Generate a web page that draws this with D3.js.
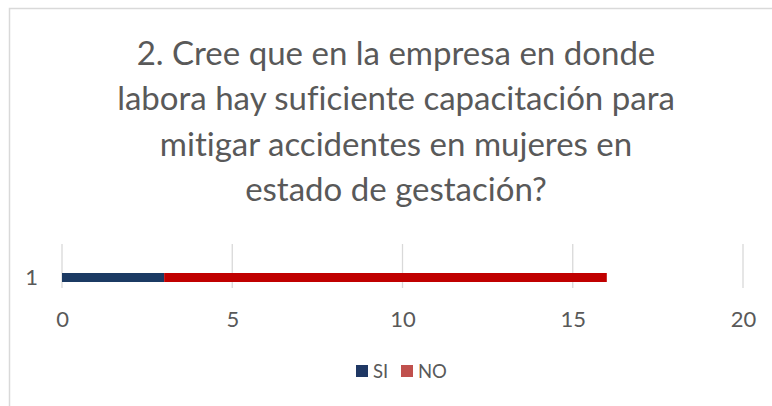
<!DOCTYPE html>
<html>
<head>
<meta charset="utf-8">
<script src="https://cdn.jsdelivr.net/npm/d3@7"></script>
<style>
  body { margin: 0; background: #fff; }
  svg { display: block; font-family: Lato, "Open Sans", sans-serif; font-variant-ligatures: none; }
</style>
</head>
<body>
<svg id="chart" width="772" height="406"></svg>
<script>
// data
var categories = ["1"];
var seriesNames = ["SI", "NO"];
var siValues = [3];
var noValues = [13];
var barColors = ["#1b3a63", "#c00000"];
var legendColors = ["#1f3864", "#c0504d"];
var tickValues = [0, 5, 10, 15, 20];
var titleLines = [
  "2. Cree que en la empresa en donde",
  "labora hay suficiente capacitación para",
  "mitigar accidentes en mujeres en",
  "estado de gestación?"
];

var svg = d3.select("#chart");

// chart frame (only top and left edges show in the crop)
svg.append("rect")
  .attr("x", 9.5).attr("y", 8.5)
  .attr("width", 800).attr("height", 420)
  .attr("fill", "#fff")
  .attr("stroke", "#d9d9d9")
  .attr("stroke-width", 1.5);

// title, sized so the longest line fits the same width as the original
var title = svg.append("g").attr("fill", "#595959");
var probe = title.append("text").attr("font-size", 30).text(titleLines[1]);
var w = probe.node().getComputedTextLength();
probe.remove();
var titleSize = 30 * 558 / w;

title.selectAll("text")
  .data(titleLines)
  .enter().append("text")
  .attr("x", 396)
  .attr("y", function(d, i) { return 64.5 + i * 45.5; })
  .attr("text-anchor", "middle")
  .attr("font-size", titleSize)
  .text(function(d) { return d; });

// scales
var x = d3.scaleLinear().domain([0, 20]).range([62, 743]);
var y = d3.scaleBand().domain(categories).range([244, 310]).padding(0);

// gridlines
svg.append("g")
  .selectAll("line")
  .data(tickValues)
  .enter().append("line")
  .attr("x1", function(d) { return x(d); })
  .attr("x2", function(d) { return x(d); })
  .attr("y1", 244)
  .attr("y2", 288)
  .attr("stroke", "#d9d9d9")
  .attr("stroke-width", 1.3);

// stacked bars
var rows = categories.map(function(c, i) { return { cat: c, SI: siValues[i], NO: noValues[i] }; });
var stacked = d3.stack().keys(seriesNames)(rows);

svg.append("g")
  .selectAll("g")
  .data(stacked)
  .enter().append("g")
  .attr("fill", function(d, i) { return barColors[i]; })
  .selectAll("rect")
  .data(function(d) { return d; })
  .enter().append("rect")
  .attr("x", function(d) { return x(d[0]); })
  .attr("width", function(d) { return x(d[1]) - x(d[0]); })
  .attr("y", 273)
  .attr("height", 9);

// x axis labels
var xAxis = svg.append("g")
  .attr("transform", "translate(0,327)")
  .call(d3.axisBottom(x).tickValues(tickValues).tickSize(0).tickPadding(0));
xAxis.select(".domain").remove();
xAxis.selectAll("text")
  .attr("fill", "#595959")
  .attr("font-size", 22)
  .attr("font-family", "Lato, sans-serif")
  .attr("dy", 0);

// y axis label
var yAxis = svg.append("g")
  .attr("transform", "translate(38,0)")
  .call(d3.axisLeft(y).tickSize(0).tickPadding(0));
yAxis.select(".domain").remove();
yAxis.selectAll("text")
  .attr("y", 284.5 - (y("1") + y.bandwidth() / 2))
  .attr("fill", "#595959")
  .attr("font-size", 22)
  .attr("font-family", "Lato, sans-serif")
  .attr("dy", 0);

// legend
var legendX = [356, 401];
var legend = svg.append("g");
seriesNames.forEach(function(name, i) {
  legend.append("rect")
    .attr("x", legendX[i]).attr("y", 365)
    .attr("width", 12).attr("height", 12)
    .attr("fill", legendColors[i]);
  legend.append("text")
    .attr("x", legendX[i] + 17).attr("y", 378)
    .attr("fill", "#595959")
    .attr("font-size", 18.5)
    .text(name);
});
</script>
</body>
</html>
